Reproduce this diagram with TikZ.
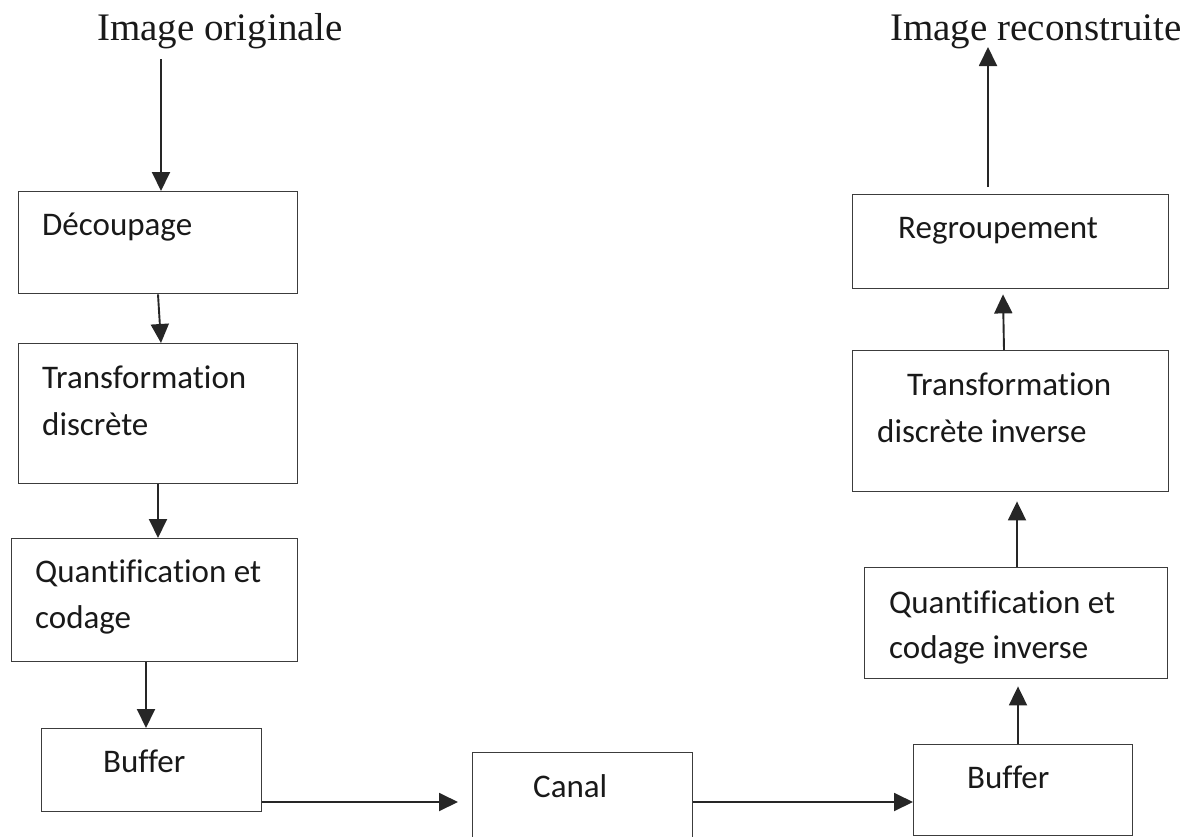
\documentclass[tikz,border=0pt]{standalone}
\usepackage{fontspec}
\setmainfont[Ligatures=NoCommon]{Carlito}
\newfontfamily\titlefont{Liberation Serif}
\usetikzlibrary{arrows.meta}
\definecolor{linegray}{HTML}{3C3C3C}
\tikzset{
  boxnode/.style={draw=linegray, line width=1.4pt, rectangle, inner sep=0pt, anchor=north west},
  arr/.style={draw=black!85, line width=1.9pt, -{Triangle[length=19pt,width=18pt]}},
  boxtext/.style={anchor=base west, inner sep=0pt, font=\fontsize{33pt}{40pt}\selectfont, text=black!90},
  titletext/.style={anchor=base west, inner sep=0pt, font=\titlefont\fontsize{39pt}{46pt}\selectfont, text=black!90}
}
\begin{document}
\begin{tikzpicture}[x=1pt,y=-1pt]
\useasboundingbox (0,0) rectangle (1195,836);
% titles
\node[titletext] (t1) at (97,40) {Image originale};
\node[titletext] (t2) at (890,40) {Image reconstruite};
% boxes
\node[boxnode, minimum width=279pt, minimum height=102pt] (dec) at (18,191) {};
\node[boxnode, minimum width=279pt, minimum height=140pt] (td) at (18,343) {};
\node[boxnode, minimum width=286pt, minimum height=123pt] (qc) at (11,538) {};
\node[boxnode, minimum width=220pt, minimum height=83pt] (buf1) at (41,728) {};
\node[boxnode, minimum width=220pt, minimum height=110pt] (canal) at (472,752) {};
\node[boxnode, minimum width=219pt, minimum height=91pt] (buf2) at (913,744) {};
\node[boxnode, minimum width=303pt, minimum height=111pt] (qi) at (864,567) {};
\node[boxnode, minimum width=316pt, minimum height=141pt] (tdi) at (852,350) {};
\node[boxnode, minimum width=316pt, minimum height=94pt] (reg) at (852,194) {};
% box texts
\node[boxtext] (decT) at (42,235) {Découpage};
\node[boxtext] (tdT1) at (42,388) {Transformation};
\node[boxtext] (tdT2) at (42,435) {discrète};
\node[boxtext] (qcT1) at (35,582) {Quantification et};
\node[boxtext] (qcT2) at (35,628) {codage};
\node[boxtext] (buf1T) at (103,772) {Buffer};
\node[boxtext] (canalT) at (533,797) {Canal};
\node[boxtext] (buf2T) at (967,788) {Buffer};
\node[boxtext] (qiT1) at (889,613) {Quantification et};
\node[boxtext] (qiT2) at (889,658) {codage inverse};
\node[boxtext] (tdiT1) at (907,395) {Transformation};
\node[boxtext] (tdiT2) at (877,442) {discrète inverse};
\node[boxtext] (regT) at (898,238) {Regroupement};
% free ends
\coordinate (s1) at (161,59);
\coordinate (e2) at (988,47);
% connectors
\draw[arr] (s1) -- ([xshift=143pt]dec.north west);
\draw[arr] ([xshift=140pt]dec.south west) -- ([xshift=143pt]td.north west);
\draw[arr] ([xshift=140pt]td.south west) -- ([xshift=147pt]qc.north west);
\draw[arr] ([xshift=135pt]qc.south west) -- ([xshift=105pt]buf1.north west);
\draw[arr] ([yshift=-74pt]buf1.north east) -- ([xshift=-14pt,yshift=-50pt]canal.north west);
\draw[arr] ([yshift=-50pt]canal.north east) -- ([yshift=-58pt]buf2.north west);
\draw[arr] ([xshift=105pt]buf2.north west) -- ([xshift=154pt,yshift=-7pt]qi.south west);
\draw[arr] ([xshift=153pt]qi.north west) -- ([xshift=165pt,yshift=-9pt]tdi.south west);
\draw[arr] ([xshift=152pt]tdi.north west) -- ([xshift=151pt,yshift=-5pt]reg.south west);
\draw[arr] ([xshift=136pt,yshift=7pt]reg.north west) -- (e2);
\end{tikzpicture}
\end{document}
